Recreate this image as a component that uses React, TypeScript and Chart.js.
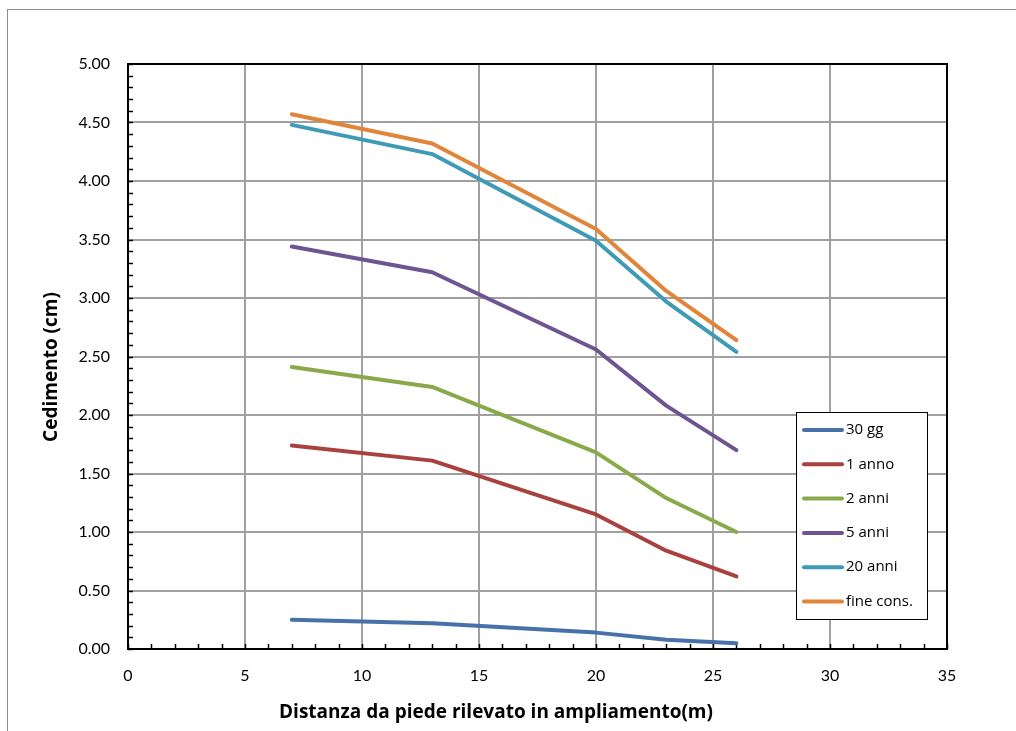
import React, { useEffect, useRef } from 'react';
import { Chart, registerables } from 'chart.js';

Chart.register(...registerables);

const xValues = [7, 13, 20, 23, 26];
const seriesLabels = ['30 gg', '1 anno', '2 anni', '5 anni', '20 anni', 'fine cons.'];
const s30gg = [0.25, 0.22, 0.14, 0.08, 0.05];
const s1anno = [1.74, 1.61, 1.15, 0.84, 0.62];
const s2anni = [2.41, 2.24, 1.68, 1.29, 1.0];
const s5anni = [3.44, 3.22, 2.56, 2.08, 1.7];
const s20anni = [4.48, 4.23, 3.49, 2.97, 2.54];
const sFine = [4.57, 4.32, 3.59, 3.06, 2.64];
const seriesValues = [s30gg, s1anno, s2anni, s5anni, s20anni, sFine];
const seriesColors = ['#4672a9', '#a9423f', '#89a94b', '#6e5490', '#3f9bb5', '#e0853a'];

const xMin = 0;
const xMax = 35;
const xStep = 5;
const xMinorStep = 1;
const yMin = 0;
const yMax = 5;
const yStep = 0.5;
const yMinorStep = 0.1;

const xTitle = 'Distanza da piede rilevato in ampliamento(m)';
const yTitle = 'Cedimento (cm)';
const FONT = 'Lato, "Open Sans", sans-serif';
const TITLE_FONT = '"Open Sans", Lato, sans-serif';

const framePlugin = {
  id: 'framePlugin',
  beforeDatasetsDraw(chart: any) {
    const { ctx, chartArea, scales } = chart;
    const xs = scales.x;
    const ys = scales.y;
    ctx.save();
    ctx.strokeStyle = '#000';
    ctx.lineWidth = 1.5;
    // minor ticks (inward)
    for (let v = xMin; v <= xMax + 1e-9; v += xMinorStep) {
      const px = Math.round(xs.getPixelForValue(v)) + 0.5;
      ctx.beginPath();
      ctx.moveTo(px, chartArea.bottom);
      ctx.lineTo(px, chartArea.bottom - 5);
      ctx.stroke();
    }
    for (let i = 0; i <= Math.round((yMax - yMin) / yMinorStep); i++) {
      const v = yMin + i * yMinorStep;
      const py = Math.round(ys.getPixelForValue(v)) + 0.5;
      ctx.beginPath();
      ctx.moveTo(chartArea.left, py);
      ctx.lineTo(chartArea.left + 5, py);
      ctx.stroke();
    }
    // plot border
    ctx.lineWidth = 2;
    ctx.strokeRect(chartArea.left, chartArea.top, chartArea.right - chartArea.left, chartArea.bottom - chartArea.top);
    ctx.restore();
  },
  afterDraw(chart: any) {
    const { ctx } = chart;
    ctx.save();
    // axis titles
    ctx.fillStyle = '#000';
    ctx.font = `bold 19px ${TITLE_FONT}`;
    ctx.textAlign = 'center';
    ctx.textBaseline = 'middle';
    ctx.fillText(xTitle, 496, 713);
    ctx.translate(52, 367);
    ctx.rotate(-Math.PI / 2);
    ctx.fillText(yTitle, 0, 0);
    ctx.restore();

    // legend
    ctx.save();
    const lx = 796;
    const ly = 412;
    const lw = 131;
    const lh = 207;
    ctx.fillStyle = '#fff';
    ctx.fillRect(lx, ly, lw, lh);
    ctx.strokeStyle = '#000';
    ctx.lineWidth = 1;
    ctx.strokeRect(lx + 0.5, ly + 0.5, lw, lh);
    ctx.font = `15px ${TITLE_FONT}`;
    ctx.textAlign = 'left';
    ctx.textBaseline = 'middle';
    chart.data.datasets.forEach((ds: any, i: number) => {
      const cy = ly + 18 + i * 34.3;
      ctx.strokeStyle = ds.borderColor;
      ctx.lineWidth = 4;
      ctx.lineCap = 'round';
      ctx.beginPath();
      ctx.moveTo(lx + 8, cy);
      ctx.lineTo(lx + 46, cy);
      ctx.stroke();
      ctx.fillStyle = '#000';
      ctx.fillText(ds.label, lx + 50, cy);
    });
    ctx.restore();
  },
};

export default function App() {
  const canvasRef = useRef<HTMLCanvasElement>(null);

  useEffect(() => {
    const canvas = canvasRef.current;
    if (!canvas) return;
    const datasets = seriesLabels.map((label, i) => ({
      label,
      data: xValues.map((x, j) => ({ x, y: seriesValues[i][j] })),
      borderColor: seriesColors[i],
      backgroundColor: seriesColors[i],
      borderWidth: 4,
      borderCapStyle: 'round' as const,
      borderJoinStyle: 'round' as const,
      pointRadius: 0,
      fill: false,
      tension: 0,
    }));
    const chart = new Chart(canvas, {
      type: 'line',
      data: { datasets },
      options: {
        animation: false,
        responsive: false,
        devicePixelRatio: 1,
        layout: { padding: { top: 64, right: 69, left: 0, bottom: 0 } },
        plugins: {
          legend: { display: false },
          tooltip: { enabled: false },
          title: { display: false },
        },
        scales: {
          x: {
            type: 'linear',
            min: xMin,
            max: xMax,
            afterFit: (s: any) => {
              s.height = 82;
            },
            ticks: {
              stepSize: xStep,
              color: '#000',
              font: { family: FONT, size: 16 },
              padding: 17,
              maxRotation: 0,
            },
            grid: { color: '#a0a0a0', lineWidth: 2, drawTicks: false },
            border: { display: false },
          },
          y: {
            type: 'linear',
            min: yMin,
            max: yMax,
            afterFit: (s: any) => {
              s.width = 128;
            },
            ticks: {
              stepSize: yStep,
              color: '#000',
              font: { family: FONT, size: 16 },
              padding: 18,
              callback: (v: any) => Number(v).toFixed(2),
            },
            grid: { color: '#a0a0a0', lineWidth: 2, drawTicks: false },
            border: { display: false },
          },
        },
      },
      plugins: [framePlugin],
    });
    return () => chart.destroy();
  }, []);

  return (
    <div style={{ position: 'absolute', left: 0, top: 0, width: 1016, height: 731, overflow: 'hidden', background: '#fff' }}>
      <div
        style={{
          position: 'absolute',
          left: 7,
          top: 9,
          width: 1200,
          height: 900,
          border: '1px solid #8e8e8e',
        }}
      />
      <canvas ref={canvasRef} width={1016} height={731} style={{ position: 'absolute', left: 0, top: 0 }} />
    </div>
  );
}
